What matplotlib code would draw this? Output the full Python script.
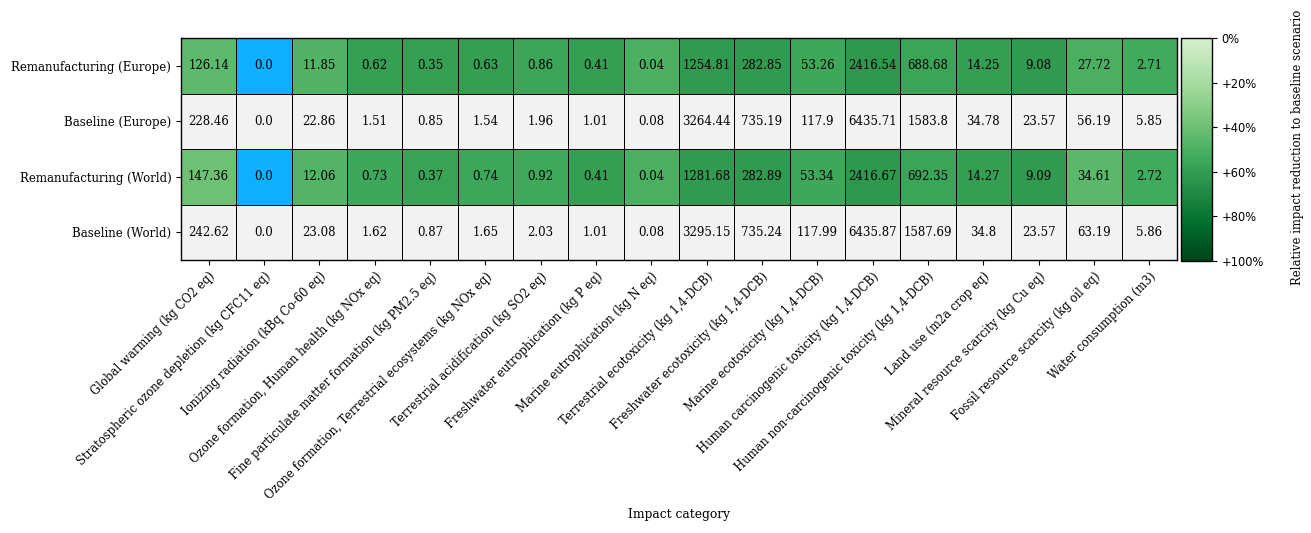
import numpy as np
import matplotlib
matplotlib.use("Agg")
import matplotlib.pyplot as plt
from matplotlib.colors import ListedColormap, Normalize
from matplotlib.cm import ScalarMappable

categories = [
    "Global warming (kg CO2 eq)",
    "Stratospheric ozone depletion (kg CFC11 eq)",
    "Ionizing radiation (kBq Co-60 eq)",
    "Ozone formation, Human health (kg NOx eq)",
    "Fine particulate matter formation (kg PM2.5 eq)",
    "Ozone formation, Terrestrial ecosystems (kg NOx eq)",
    "Terrestrial acidification (kg SO2 eq)",
    "Freshwater eutrophication (kg P eq)",
    "Marine eutrophication (kg N eq)",
    "Terrestrial ecotoxicity (kg 1,4-DCB)",
    "Freshwater ecotoxicity (kg 1,4-DCB)",
    "Marine ecotoxicity (kg 1,4-DCB)",
    "Human carcinogenic toxicity (kg 1,4-DCB)",
    "Human non-carcinogenic toxicity (kg 1,4-DCB)",
    "Land use (m2a crop eq)",
    "Mineral resource scarcity (kg Cu eq)",
    "Fossil resource scarcity (kg oil eq)",
    "Water consumption (m3)",
]
scenarios = ["Remanufacturing (Europe)", "Baseline (Europe)",
             "Remanufacturing (World)", "Baseline (World)"]

reman_europe = [126.14, 0.0, 11.85, 0.62, 0.35, 0.63, 0.86, 0.41, 0.04, 1254.81,
                282.85, 53.26, 2416.54, 688.68, 14.25, 9.08, 27.72, 2.71]
base_europe = [228.46, 0.0, 22.86, 1.51, 0.85, 1.54, 1.96, 1.01, 0.08, 3264.44,
               735.19, 117.9, 6435.71, 1583.8, 34.78, 23.57, 56.19, 5.85]
reman_world = [147.36, 0.0, 12.06, 0.73, 0.37, 0.74, 0.92, 0.41, 0.04, 1281.68,
               282.89, 53.34, 2416.67, 692.35, 14.27, 9.09, 34.61, 2.72]
base_world = [242.62, 0.0, 23.08, 1.62, 0.87, 1.65, 2.03, 1.01, 0.08, 3295.15,
              735.24, 117.99, 6435.87, 1587.69, 34.8, 23.57, 63.19, 5.86]

cbar_ticks = [0.0, 0.2, 0.4, 0.6, 0.8, 1.0]
cbar_ticklabels = ["0%", "+20%", "+40%", "+60%", "+80%", "+100%"]

plt.rcParams["font.family"] = ["DejaVu Serif"]

rows = [reman_europe, base_europe, reman_world, base_world]
is_reman = [True, False, True, False]

# colormap: first bin blue (no reduction / undefined), then Greens
greens = plt.get_cmap("Greens")(np.linspace(0.2, 1.0, 255))
blue = np.array([[0.05, 0.69, 1.0, 1.0]])
cmap = ListedColormap(np.vstack([blue, greens]))
norm = Normalize(0, 1)
gray = np.array([0.949, 0.949, 0.949, 1.0])

n_r, n_c = len(rows), len(categories)
rgba = np.zeros((n_r, n_c, 4))
for i in range(n_r):
    for j in range(n_c):
        if is_reman[i]:
            base = rows[i + 1][j]
            red = 0.0 if base == 0 else 1 - rows[i][j] / base
            rgba[i, j] = cmap(norm(red))
        else:
            rgba[i, j] = gray

fig = plt.figure(figsize=(13.11, 5.33), dpi=100)
ax = fig.add_axes([181 / 1311, 1 - 260 / 533, (1177 - 181) / 1311, (260 - 38) / 533])
cax = fig.add_axes([1181 / 1311, 1 - 261 / 533, (1212 - 1181) / 1311, (261 - 38) / 533])

ax.pcolormesh(np.arange(n_c + 1), np.arange(n_r + 1), rgba,
              edgecolors="black", linewidth=0.6)
ax.set_xlim(0, n_c)
ax.set_ylim(n_r, 0)

for i in range(n_r):
    for j in range(n_c):
        ax.text(j + 0.5, i + 0.5, f"{rows[i][j]}", ha="center", va="center",
                fontsize=8.5, color="black")

ax.set_xticks(np.arange(n_c) + 0.5)
ax.set_xticklabels(categories, rotation=45, ha="right", rotation_mode="anchor",
                   fontsize=8.4)
ax.set_yticks(np.arange(n_r) + 0.5)
ax.set_yticklabels(scenarios, fontsize=8.5)
ax.set_xlabel("Impact category", fontsize=8.8, labelpad=4.5)
for s in ax.spines.values():
    s.set_linewidth(1.0)

sm = ScalarMappable(norm=norm, cmap=cmap)
cb = fig.colorbar(sm, cax=cax)
cb.set_ticks(cbar_ticks)
cb.set_ticklabels(cbar_ticklabels)
cax.invert_yaxis()
for t in cax.get_yticklabels():
    t.set_fontfamily("DejaVu Sans")
    t.set_fontsize(8.3)
cb.outline.set_linewidth(1.0)

fig.text(1297 / 1311, 1 - 147 / 533, "Relative impact reduction to baseline scenario",
         rotation=90, ha="center", va="center", fontsize=8.4)

fig.savefig("out.png", dpi=100)
